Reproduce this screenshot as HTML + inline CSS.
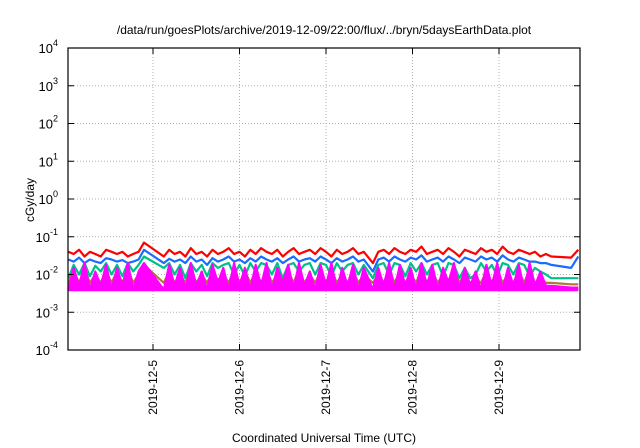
<!DOCTYPE html>
<html><head><meta charset="utf-8"><style>
body{margin:0;background:#fff}
svg{display:block;font-family:"Liberation Sans",sans-serif}
</style></head><body>
<svg id="chart" width="640" height="448" viewBox="0 0 640 448" xmlns="http://www.w3.org/2000/svg">
<rect width="640" height="448" fill="#fff"/>
<text x="324" y="34" font-size="12" text-anchor="middle">/data/run/goesPlots/archive/2019-12-09/22:00/flux/../bryn/5daysEarthData.plot</text>
<text transform="translate(34,200) rotate(-90)" font-size="12" text-anchor="middle">cGy/day</text>
<text x="324" y="442" font-size="12" text-anchor="middle">Coordinated Universal Time (UTC)</text>
<g id="grid"></g><g id="series"></g><g id="axes"></g>
</svg>
<script>
const times=[0.5,2,3.5,5,6.5,8,9.5,11,12.5,14,15.5,17,18.5,20,21.5,
27,28.5,30,31.5,33,34.5,36,37.5,39,40.5,42,43.5,45,46.5,48,49.5,51,52.5,54,55.5,57,58.5,60,61.5,63,64.5,66,67.5,69,70.5,72,73.5,75,76.5,78,79.5,81,82.5,
85,86.5,88,89.5,91,92.5,94,95.5,97,98.5,100,101.5,103,104.5,106,107.5,109,110.5,112,113.5,115,116.5,118,119.5,121,122.5,124,125.5,127,128.5,130,131.5,133,134.5,
140,142];
const redVals=[.04,.035,.045,.03,.04,.035,.03,.045,.04,.035,.04,.03,.035,.04,.07,
.03,.045,.035,.04,.03,.05,.035,.04,.03,.045,.035,.04,.05,.035,.04,.03,.045,.035,.05,.04,.035,.045,.03,.04,.05,.035,.04,.045,.035,.05,.04,.03,.045,.035,.04,.05,.035,.04,
.02,.04,.045,.035,.05,.04,.035,.045,.04,.055,.035,.04,.045,.035,.05,.04,.03,.045,.04,.035,.05,.04,.045,.035,.055,.04,.035,.045,.04,.035,.04,.03,.035,.03,
.028,.045];
const blueVals=[.025,.022,.028,.02,.025,.022,.02,.027,.025,.022,.024,.02,.022,.025,.045,
.02,.026,.022,.025,.02,.03,.022,.025,.018,.027,.022,.025,.03,.022,.025,.02,.027,.022,.03,.025,.022,.027,.02,.025,.03,.022,.025,.027,.022,.03,.025,.02,.027,.022,.025,.03,.022,.025,
.012,.025,.028,.022,.03,.025,.022,.028,.025,.032,.022,.025,.028,.022,.03,.025,.02,.028,.025,.022,.03,.025,.028,.022,.032,.025,.022,.028,.025,.022,.022,.02,.02,.018,
.015,.03];
const greenVals=[.008,.018,.01,.02,.009,.017,.012,.02,.01,.018,.009,.02,.012,.018,.03,
.015,.02,.01,.018,.008,.02,.012,.018,.009,.02,.015,.018,.02,.01,.018,.009,.02,.012,.02,.018,.01,.02,.008,.018,.02,.012,.018,.02,.01,.02,.018,.009,.02,.012,.018,.02,.01,.018,
.008,.018,.02,.01,.02,.018,.009,.02,.012,.02,.01,.018,.02,.009,.02,.018,.008,.015,.008,.01,.02,.012,.018,.009,.02,.018,.01,.02,.018,.009,.015,.012,.01,.008,
.008,.008];
const orangeVals=[.006,.012,.006,.014,.006,.01,.006,.012,.006,.012,.006,.014,.006,.01,.018,
.006,.012,.006,.01,.006,.014,.006,.01,.006,.012,.007,.01,.006,.014,.006,.012,.006,.012,.006,.014,.006,.01,.007,.012,.006,.014,.006,.01,.006,.012,.006,.014,.006,.01,.006,.012,.006,.01,
.006,.01,.006,.014,.006,.012,.006,.01,.006,.014,.006,.012,.006,.01,.007,.014,.006,.01,.006,.008,.006,.012,.006,.014,.006,.01,.006,.012,.006,.014,.006,.008,.006,.006,
.0055,.0055];
const magentaVals=[.004,.015,.005,.02,.004,.012,.005,.018,.004,.015,.005,.02,.004,.012,.02,
.004,.018,.005,.015,.004,.02,.005,.012,.004,.018,.006,.015,.004,.02,.005,.015,.004,.018,.005,.02,.004,.015,.006,.018,.004,.02,.005,.012,.004,.018,.005,.02,.004,.015,.005,.018,.004,.015,
.004,.015,.005,.02,.004,.018,.005,.015,.004,.02,.005,.018,.004,.015,.006,.02,.004,.015,.005,.012,.004,.018,.005,.02,.004,.015,.005,.018,.004,.02,.005,.012,.005,.005,
.0045,.0045];
const magentaFloor=0.0036;
const yTickExps=[-4,-3,-2,-1,0,1,2,3,4];
const xTickHours=[24,48,72,96,120];
const xTickLabels=["2019-12-5","2019-12-6","2019-12-7","2019-12-8","2019-12-9"];

const L=68,R=580,T=48,B=350;
const xs=h=>153+(h-24)*(499-153)/96;
const ys=v=>B-(Math.log10(v)+4)/8*(B-T);
const NS="http://www.w3.org/2000/svg";
function mk(tag,attrs,parent){const e=document.createElementNS(NS,tag);for(const k in attrs)e.setAttribute(k,attrs[k]);parent.appendChild(e);return e;}
const grid=document.getElementById('grid'),axes=document.getElementById('axes'),ser=document.getElementById('series');
yTickExps.forEach(p=>{
  const y=ys(Math.pow(10,p));
  if(p>-4&&p<4){const g=mk('line',{x1:L,x2:R,y1:y,y2:y,stroke:'#b0b0b0','stroke-dasharray':'1,2','stroke-width':1},grid);
  
  }
  const t1=mk('line',{x1:L,x2:L+6,y1:y,y2:y,stroke:'#000'},axes);
  
  
  const t2=mk('line',{x1:R-6,x2:R,y1:y,y2:y,stroke:'#000'},axes);
  
  
  const tx=mk('text',{x:L-10,y:y+5,'font-size':13,'text-anchor':'end'},axes);
  
  
  tx.innerHTML='10<tspan dy="-7" font-size="9">'+p+'</tspan>';
});
xTickHours.forEach((h,i)=>{
  const x=xs(h);
  const g=mk('line',{x1:x,x2:x,y1:T,y2:B,stroke:'#b0b0b0','stroke-dasharray':'1,2'},grid);
  
  
  const t1=mk('line',{x1:x,x2:x,y1:B-6,y2:B,stroke:'#000'},axes);
  
  
  const t2=mk('line',{x1:x,x2:x,y1:T,y2:T+6,stroke:'#000'},axes);
  
  
  const tx=mk('text',{transform:'translate('+(x+4)+','+(B+10)+') rotate(-90)','font-size':12,'text-anchor':'end'},axes);
  
  
  tx.textContent=xTickLabels[i];
});
const frame=mk('rect',{x:L,y:T,width:R-L,height:B-T,fill:'none',stroke:'#000','stroke-width':1.2},axes);


const seriesList=[[redVals,'#ff0000','series-red'],[blueVals,'#1a6cff','series-blue'],[greenVals,'#00c08a','series-green'],[orangeVals,'#b07a30','series-orange'],[magentaVals,'#ff00ff','series-magenta']];
seriesList.forEach(([vals,col,name])=>{
  const n=Math.min(vals.length,times.length);
  let d='';
  for(let i=0;i<n;i++)d+=(i?'L':'M')+xs(times[i]).toFixed(1)+','+ys(vals[i]).toFixed(1);
  if(name==='series-magenta'){
    let a=d;
    for(let i=n-1;i>=0;i--)a+='L'+xs(times[i]).toFixed(1)+','+ys(magentaFloor).toFixed(1);
    const f=mk('path',{d:a+'Z',fill:'#ff00ff',stroke:'none'},ser);
    
    
  }
  const p=mk('path',{d:d,fill:'none',stroke:col,'stroke-width':2.2,'stroke-linejoin':'round'},ser);
  
  
});
</script>
</body></html>
